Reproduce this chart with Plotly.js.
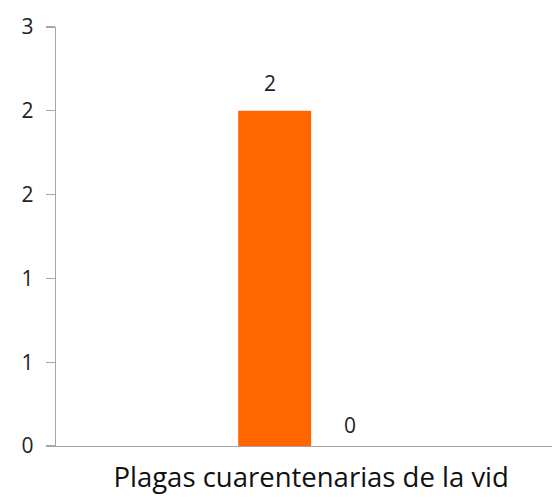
<!DOCTYPE html>
<html>
<head>
<meta charset="utf-8">
<script src="https://cdn.plot.ly/plotly-3.0.1.min.js"></script>
<style>html,body{margin:0;padding:0;background:#fff;}#chart{width:552px;height:503px;}</style>
</head>
<body>
<div id="chart"></div>
<script>
var categories = ["Plagas cuarentenarias de la vid"];
var seriesA = [2];
var seriesB = [0];
var yTickVals = [0, 0.5, 1, 1.5, 2, 2.5];
var yTickText = ["0", "1", "1", "2", "2", "3"];

var font = {family: "Open Sans, Noto Sans, sans-serif", color: "#222", size: 21};

var traces = [
  {type: "bar", x: categories, y: seriesA, marker: {color: "#FF6600"},
   offsetgroup: "a", hoverinfo: "none"},
  {type: "bar", x: categories, y: seriesB, marker: {color: "#A5A5A5"},
   offsetgroup: "b", hoverinfo: "none"}
];

// data labels built from the series values
var barW = 0.143;
var annotations = [];
seriesA.forEach(function (v, i) {
  annotations.push({x: i - barW / 2, y: v, xref: "x", yref: "y", text: String(v),
    showarrow: false, yshift: 28, xshift: -5, font: font});
});
seriesB.forEach(function (v, i) {
  annotations.push({x: i + barW / 2, y: v, xref: "x", yref: "y", text: String(v),
    showarrow: false, yshift: 21, xshift: 2, font: font});
});

var layout = {
  width: 552, height: 503,
  margin: {l: 56, r: 0, t: 27, b: 57},
  paper_bgcolor: "#fff", plot_bgcolor: "#fff",
  showlegend: false,
  barmode: "group", bargap: 0.714, bargroupgap: 0,
  font: font,
  annotations: annotations,
  xaxis: {type: "category", range: [-0.5, 0.472], showgrid: false, zeroline: false,
    showline: true, linecolor: "#a6a6a6", linewidth: 1.3,
    ticks: "", ticklabelstandoff: 7,
    tickfont: {family: "Open Sans, sans-serif", size: 27.5, color: "#111"}},
  yaxis: {range: [0, 2.5], tickvals: yTickVals, ticktext: yTickText,
    showgrid: false, zeroline: false, showline: true, linecolor: "#a6a6a6", linewidth: 1.3,
    ticks: "outside", ticklen: 9, tickcolor: "#a6a6a6", tickwidth: 1.3,
    ticklabelstandoff: 8, tickfont: font}
};

Plotly.newPlot("chart", traces, layout, {displayModeBar: false, staticPlot: true});
</script>
</body>
</html>
